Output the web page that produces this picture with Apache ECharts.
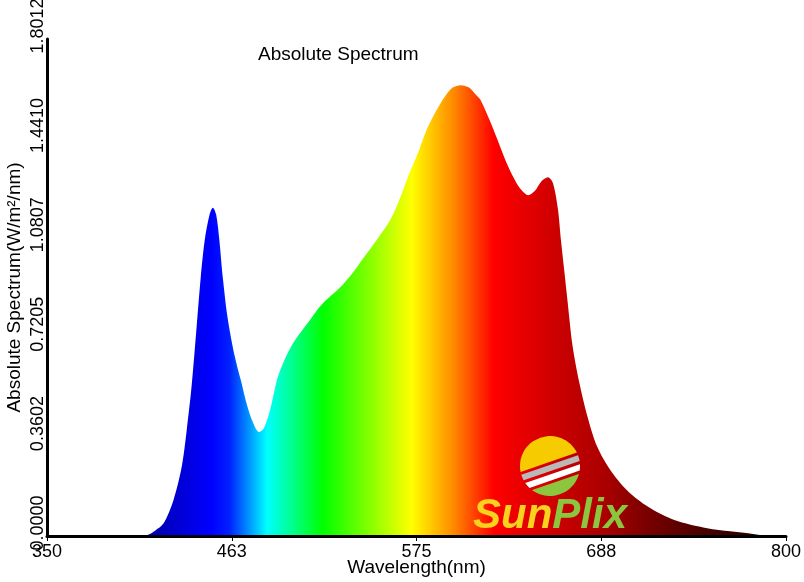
<!DOCTYPE html>
<html><head><meta charset="utf-8">
<script src="https://cdn.jsdelivr.net/npm/echarts@6/dist/echarts.min.js"></script>
<style>html,body{margin:0;padding:0;background:#fff}#c{width:804px;height:582px}</style>
</head><body><div id="c"></div>
<script>
// ---- data ----
const wavelengths = [350, 400, 408, 412, 416, 421, 427, 432, 435, 438, 441, 443.5, 446, 449, 451, 453, 455, 457, 460, 464, 468, 472, 475.5, 479, 482, 486, 490, 494, 500, 506, 511, 516, 522, 530, 537, 543, 551, 559, 565, 570, 576, 581, 586, 592, 597, 602, 607, 611, 614, 620, 626, 630, 634, 638, 643, 647, 651, 655, 658, 661, 663, 665, 667, 670, 674, 679, 685, 693, 703, 716, 732, 752, 766, 777, 785, 790, 800];
const intensities = [0, 0, 0, 0.005, 0.02, 0.046, 0.13, 0.25, 0.38, 0.54, 0.75, 0.93, 1.07, 1.165, 1.19, 1.165, 1.07, 0.94, 0.79, 0.66, 0.565, 0.47, 0.41, 0.377, 0.39, 0.46, 0.565, 0.63, 0.70, 0.75, 0.79, 0.83, 0.866, 0.91, 0.96, 1.01, 1.075, 1.145, 1.225, 1.305, 1.39, 1.47, 1.53, 1.59, 1.625, 1.634, 1.625, 1.60, 1.58, 1.50, 1.41, 1.35, 1.30, 1.26, 1.235, 1.25, 1.285, 1.30, 1.28, 1.19, 1.07, 0.96, 0.85, 0.69, 0.56, 0.435, 0.324, 0.239, 0.167, 0.106, 0.058, 0.028, 0.017, 0.01, 0.003, 0, 0];
const xTickLabels = ['350', '463', '575', '688', '800'];
const yTickLabels = ['0.0000', '0.3602', '0.7205', '1.0807', '1.4410', '1.8012'];
const xMin = 350, xMax = 800, yMin = 0, yMax = 1.8012;

// spectrum colour ramp (wavelength -> colour)
const rampWavelengths = [410, 450, 461, 484, 518, 572, 597, 622, 660, 690, 715, 750, 790];
const rampColors = ['#0000a8', '#0000ff', '#0020ff', '#00ffff', '#00ff00', '#ffff00', '#ff8c00', '#ff0000', '#cc0000', '#aa0000', '#7a0000', '#480000', '#200000'];

const FONT = '"Liberation Sans", Arial, sans-serif';
const xInterval = (xMax - xMin) / (xTickLabels.length - 1);
const yInterval = (yMax - yMin) / (yTickLabels.length - 1);

const seriesData = wavelengths.map((w, i) => [w, intensities[i]]);
const stops = rampWavelengths.map((w, i) => ({ offset: (w - xMin) / (xMax - xMin), color: rampColors[i] }));

// ---- logo graphic (SunPlix) ----
function bandPolygon(cx, cy, r, u1, u2, angDeg) {
  const a = angDeg * Math.PI / 180;
  const d = [Math.cos(a), Math.sin(a)];
  const n = [-Math.sin(a), Math.cos(a)];
  const pts = [];
  const N = 24;
  for (let k = 0; k <= N; k++) {
    const u = u1 + (u2 - u1) * k / N;
    const h = Math.sqrt(Math.max(0, r * r - u * u));
    pts.push([cx + h * d[0] + u * n[0], cy + h * d[1] + u * n[1]]);
  }
  for (let k = N; k >= 0; k--) {
    const u = u1 + (u2 - u1) * k / N;
    const h = Math.sqrt(Math.max(0, r * r - u * u));
    pts.push([cx - h * d[0] + u * n[0], cy - h * d[1] + u * n[1]]);
  }
  return pts;
}
const LX = 550, LY = 466, LR = 30, ANG = -19;
const logoBands = [
  { u: [-30, -4], c: '#f6cc00' },
  { u: [-1, 5], c: '#b9b9b9' },
  { u: [8, 14], c: '#ffffff' },
  { u: [17, 30], c: '#8cc63f' }
];
const graphics = logoBands.map(b => ({
  type: 'polygon', z: 100,
  shape: { points: bandPolygon(LX, LY, LR, b.u[0], b.u[1], ANG) },
  style: { fill: b.c }
}));
graphics.push({
  type: 'text', z: 100, left: 473, top: 495,
  style: {
    text: '{a|Sun}{b|Plix}',
    rich: {
      a: { fill: '#f8d21c', fontSize: 42, fontWeight: 'bold', fontStyle: 'italic', fontFamily: FONT },
      b: { fill: '#8cc63f', fontSize: 42, fontWeight: 'bold', fontStyle: 'italic', fontFamily: FONT }
    }
  }
});

const chart = echarts.init(document.getElementById('c'), null, { renderer: 'canvas' });
chart.setOption({
  animation: false,
  backgroundColor: '#ffffff',
  title: {
    text: 'Absolute Spectrum', left: 253, top: 40,
    textStyle: { fontFamily: FONT, fontSize: 19, fontWeight: 'normal', color: '#000' }
  },
  grid: { left: 47, right: 18, top: 39, bottom: 46, containLabel: false, outerBoundsMode: 'none' },
  xAxis: {
    type: 'value', min: xMin, max: xMax, interval: xInterval, z: 5,
    name: 'Wavelength(nm)', nameLocation: 'middle', nameGap: 22, nameMoveOverlap: false,
    nameTextStyle: { fontFamily: FONT, fontSize: 19, color: '#000' },
    axisLine: { lineStyle: { color: '#000', width: 3 } },
    axisTick: { show: true, length: 5, lineStyle: { color: '#000', width: 1 } },
    axisLabel: {
      fontFamily: FONT, fontSize: 18, color: '#000', margin: 7,
      formatter: v => xTickLabels[Math.round((v - xMin) / xInterval)]
    },
    splitLine: { show: false }
  },
  yAxis: {
    type: 'value', min: yMin, max: yMax, interval: yInterval, z: 5,
    name: 'Absolute Spectrum(W/m²/nm)', nameLocation: 'middle', nameGap: 23, nameMoveOverlap: false,
    nameTextStyle: { fontFamily: FONT, fontSize: 19, color: '#000' },
    axisLine: { show: true, lineStyle: { color: '#000', width: 3 } },
    axisTick: { show: false },
    axisLabel: {
      fontFamily: FONT, fontSize: 18, color: '#000', rotate: 90, margin: 0,
      padding: [0, 0, 0, 26],
      formatter: v => yTickLabels[Math.round((v - yMin) / yInterval)]
    },
    splitLine: { show: false }
  },
  series: [{
    type: 'line', data: seriesData, smooth: 0.3, symbol: 'none', z: 2,
    lineStyle: { width: 0 },
    areaStyle: { opacity: 1, color: new echarts.graphic.LinearGradient(0, 0, 1, 0, stops) }
  }],
  graphic: graphics
});
</script>
</body></html>
